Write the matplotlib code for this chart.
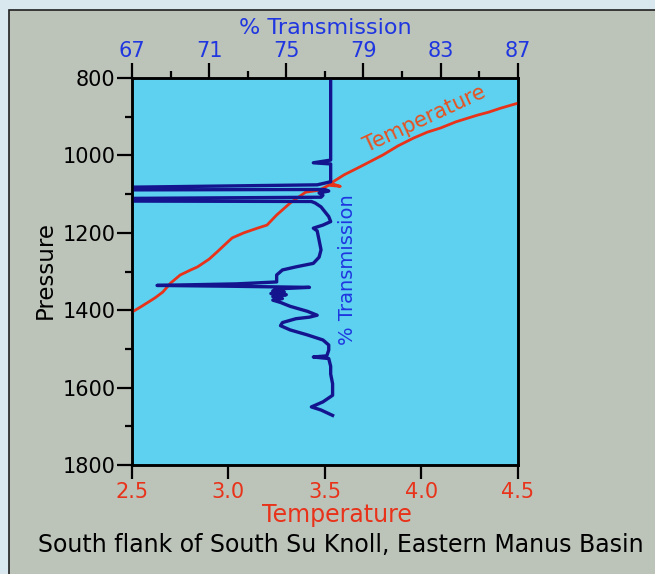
import matplotlib.pyplot as plt
from matplotlib.patches import Rectangle

# Temperature profile (red) - temperature vs pressure
temp_values = [2.50, 2.55, 2.62, 2.66, 2.70, 2.75, 2.80, 2.84, 2.90, 2.94, 3.00, 3.02,
               3.08, 3.15, 3.20, 3.25, 3.32, 3.38, 3.40, 3.47, 3.52, 3.58, 3.53, 3.60,
               3.68, 3.80, 3.88, 3.96, 4.03, 4.10, 4.18, 4.29, 4.35, 4.41, 4.50]
temp_pressure = [1405, 1390, 1368, 1353, 1330, 1309, 1297, 1288, 1268, 1250, 1222, 1213,
                 1200, 1188, 1180, 1154, 1123, 1102, 1095, 1090, 1077, 1080, 1072, 1050,
                 1030, 999, 975, 955, 940, 929, 913, 896, 888, 878, 865]

# Transmission profile (blue) - % transmission vs pressure
trans_values = [77.3, 77.3, 76.4, 77.3, 77.3, 76.6, 67.0, 67.0, 77.0, 77.2, 76.7, 76.9,
                76.8, 67.0, 67.0, 76.3, 76.5, 76.8, 77.2, 77.3, 76.9, 76.4, 76.6, 76.7,
                76.8, 76.7, 76.4, 75.5, 74.8, 74.5, 74.5, 72.4, 68.3, 72.0, 76.2, 74.5,
                74.3, 74.9, 74.2, 75.0, 74.3, 74.8, 74.3, 74.7, 75.2, 76.1, 76.6, 76.2,
                75.5, 74.8, 74.7, 75.2, 76.1, 76.9, 77.2, 77.2, 77.1, 76.4, 77.2, 77.3,
                77.3, 77.4, 77.4, 76.9, 76.3, 76.8, 77.4]
trans_pressure = [800, 1012, 1019, 1022, 1068, 1076, 1082, 1089, 1088, 1092, 1097, 1103,
                  1108, 1111, 1118, 1119, 1123, 1133, 1158, 1171, 1180, 1188, 1195, 1219,
                  1244, 1263, 1279, 1288, 1296, 1309, 1327, 1332, 1336, 1338, 1341, 1345,
                  1350, 1353, 1357, 1360, 1365, 1370, 1374, 1380, 1390, 1403, 1413, 1418,
                  1422, 1432, 1440, 1451, 1464, 1477, 1490, 1503, 1518, 1521, 1525, 1545,
                  1565, 1590, 1620, 1637, 1650, 1658, 1672]

# Axis ticks
temp_ticks = [2.5, 3.0, 3.5, 4.0, 4.5]
trans_ticks = [67, 71, 75, 79, 83, 87]
pressure_ticks = [800, 1000, 1200, 1400, 1600, 1800]

# Colours
frame_col = '#d8e8ee'
slide_col = '#bcc3b9'
panel_col = '#5dd1ef'
red = '#e8321a'
blue = '#1f36e0'
navy = '#14148f'

plt.rcParams['font.family'] = 'DejaVu Sans'

fig = plt.figure(figsize=(6.55, 5.74), dpi=100)
fig.patch.set_facecolor(frame_col)

# slide background (behind everything)
slide = Rectangle((9 / 655, -0.02), 1, 1.02 - 10 / 574, transform=fig.transFigure,
                  facecolor=slide_col, edgecolor='#202020', linewidth=1.2, zorder=-10)
fig.patches.append(slide)

ax = fig.add_axes([0.2015, 0.190, 0.589, 0.674])
ax.set_facecolor(panel_col)
ax.plot(temp_values, temp_pressure, color=red, linewidth=2.0, zorder=3)
ax.set_xlim(2.5, 4.5)
ax.set_ylim(1800, 800)
ax.set_xticks(temp_ticks)
ax.set_xticklabels(['2.5', '3.0', '3.5', '4.0', '4.5'])
ax.set_yticks(pressure_ticks)
ax.set_yticks([900, 1100, 1300, 1500, 1700], minor=True)
ax.tick_params(axis='x', colors='black', labelcolor=red, labelsize=15,
               length=10, width=1.6, pad=2)
ax.tick_params(axis='y', which='major', labelsize=15, length=11, width=1.6, pad=1)
ax.tick_params(axis='y', which='minor', length=5, width=1.6)
for s in ax.spines.values():
    s.set_linewidth(1.8)

# top axis for transmission
ax2 = ax.twiny()
ax2.plot(trans_values, trans_pressure, color=navy, linewidth=2.4, zorder=2)
ax2.set_xlim(67, 87)
ax2.set_xticks(trans_ticks)
ax2.set_xticks([69, 73, 77, 81, 85], minor=True)
ax2.tick_params(axis='x', which='major', colors='black', labelcolor=blue,
                labelsize=15, length=11, width=1.6, pad=1)
ax2.tick_params(axis='x', which='minor', length=5, width=1.6)
for s in ax2.spines.values():
    s.set_linewidth(1.8)

# labels on the curves
ax2.text(78.15, 1296, '% Transmission', color=blue, fontsize=14, rotation=90,
         ha='center', va='center')
ax.text(4.02, 905, 'Temperature', color='#e8501e', fontsize=15, rotation=25,
        ha='center', va='center')

# axis titles
fig.text(0.496, 0.952, '% Transmission', color=blue, fontsize=16, ha='center', va='center')
fig.text(0.515, 0.103, 'Temperature', color=red, fontsize=17, ha='center', va='center')
fig.text(0.069, 0.530, 'Pressure', color='black', fontsize=16.5, rotation=90,
         ha='center', va='center')
fig.text(0.521, 0.050, 'South flank of South Su Knoll, Eastern Manus Basin',
         color='black', fontsize=17, ha='center', va='center')

plt.savefig('out.png', dpi=100, facecolor=fig.get_facecolor())
